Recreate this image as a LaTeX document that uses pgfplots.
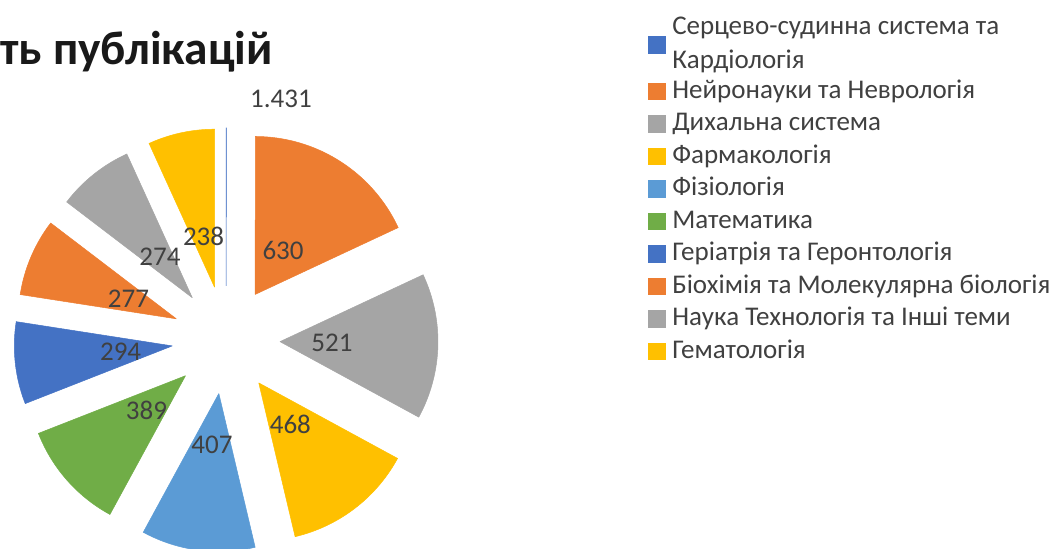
\documentclass[border=0pt]{standalone}
\usepackage{fontspec}
\setmainfont{Carlito}
\usepackage{pgfplots}
\pgfplotsset{compat=1.18}

\definecolor{cBlue}{HTML}{4472C4}
\definecolor{cOrange}{HTML}{ED7D31}
\definecolor{cGray}{HTML}{A5A5A5}
\definecolor{cGold}{HTML}{FFC000}
\definecolor{cLight}{HTML}{5B9BD5}
\definecolor{cGreen}{HTML}{70AD47}
\definecolor{txtgray}{HTML}{404040}

% value/colour, clockwise from 12 o'clock (1.431 is read as a decimal by the chart)
\def\slices{1.431/cBlue, 630/cOrange, 521/cGray, 468/cGold, 407/cLight, 389/cGreen, 294/cBlue, 277/cOrange, 274/cGray, 238/cGold}
% pie geometry in pixel units, y up
\def\cx{226}\def\cy{209}\def\rad{158}\def\expl{54}\def\lab{52}

\tikzset{lbl/.style={font=\fontsize{13.5}{16}\selectfont, text=txtgray},
  one/.style={text height=10pt, text depth=3pt}}

\begin{document}
\begin{tikzpicture}
\useasboundingbox (0,0) rectangle (524.5pt,274.5pt);
\gdef\total{0}
\foreach \v/\c in \slices {\pgfmathsetmacro\tt{\total+\v}\xdef\total{\tt}}
\begin{axis}[
  at={(0,0)}, anchor=south west,
  width=524.5pt, height=274.5pt, scale only axis,
  xmin=0, xmax=1049, ymin=0, ymax=549,
  axis lines=none, clip=true,
  legend image code/.code={\fill[#1] (0pt,-4.2pt) rectangle (8.4pt,4.2pt);},
  legend style={at={(0.6177,0.9685)}, anchor=north west, draw=none, fill=none,
    inner sep=0pt, outer sep=0pt, row sep=3.25pt, column sep=3.5pt,
    font=\fontsize{13.5}{17}\selectfont, text=txtgray,
    cells={anchor=west},
    nodes={inner sep=0pt, align=left}},
]
\gdef\acc{0}
\foreach \v/\c [count=\i] in \slices {
  \pgfmathsetmacro\aS{\acc/\total*360}
  \pgfmathsetmacro\aE{(\acc+\v)/\total*360}
  \pgfmathsetmacro\aM{(\aS+\aE)/2}
  \pgfmathsetmacro\px{\cx+\expl*sin(\aM)}
  \pgfmathsetmacro\py{\cy+\expl*cos(\aM)}
  \pgfmathsetmacro\lx{\px+\lab*sin(\aM)}
  \pgfmathsetmacro\ly{\py+\lab*cos(\aM)}
  \edef\doplot{\noexpand\addplot[fill=\c, draw=\c, line width=0.25pt,
    samples at={-1,0,1,...,40,41}, variable=\noexpand\s]
    ({\px+ifthenelse(\noexpand\s<0||\noexpand\s>40,0,\rad)*sin(\aS+(\aE-\aS)*min(max(\noexpand\s,0),40)/40)},
     {\py+ifthenelse(\noexpand\s<0||\noexpand\s>40,0,\rad)*cos(\aS+(\aE-\aS)*min(max(\noexpand\s,0),40)/40)});}
  \doplot
  \ifnum\i>1
    \edef\donode{\noexpand\node[lbl] at (axis cs:\lx,\ly) {\v};}
    \donode
  \fi
  \pgfmathsetmacro\tt{\acc+\v}
  \xdef\acc{\tt}
}
\node[lbl] at (axis cs:281,450) {1.431};
\node[anchor=base west, inner sep=0pt, font=\bfseries\fontsize{23.7}{28}\selectfont, text=black!90]
  at (axis cs:0,484) {ть публікацій};

\addlegendentry{Серцево-судинна система та\\Кардіологія}
\addlegendentry[one]{Нейронауки та Неврологія}
\addlegendentry[one]{Дихальна система}
\addlegendentry[one]{Фармакологія}
\addlegendentry[one]{Фізіологія}
\addlegendentry[one]{Математика}
\addlegendentry[one]{Геріатрія та Геронтологія}
\addlegendentry[one]{Біохімія та Молекулярна біологія}
\addlegendentry[one]{Наука Технологія та Інші теми}
\addlegendentry[one]{Гематологія}
\end{axis}
\end{tikzpicture}
\end{document}
